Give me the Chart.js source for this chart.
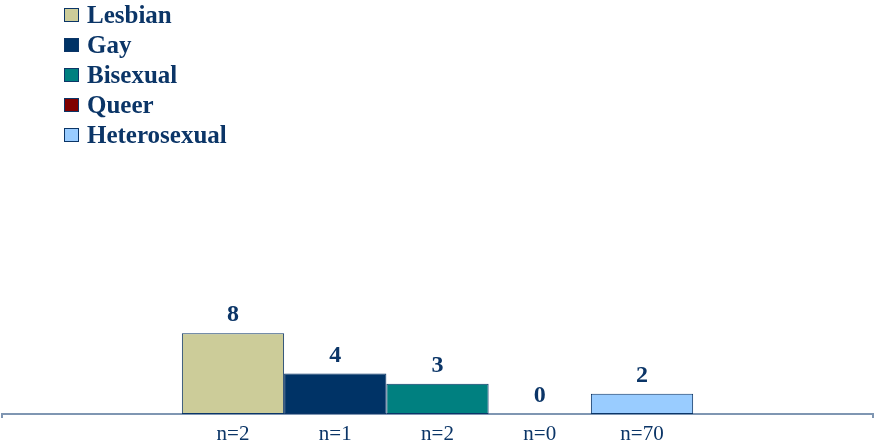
<!DOCTYPE html>
<html>
<head>
<meta charset="utf-8">
<script src="https://cdn.jsdelivr.net/npm/chart.js@4/dist/chart.umd.min.js"></script>
<style>
  html, body { margin: 0; padding: 0; background: #ffffff; }
  #wrap { position: relative; width: 874px; height: 441px; }
  #legend { position: absolute; left: 64px; top: 0px; font-family: "Liberation Serif", "Times New Roman", serif; font-weight: bold; font-size: 25px; color: #0b3567; }
  #legend .item { height: 30px; line-height: 30px; display: flex; align-items: center; white-space: nowrap; }
  #legend .box { width: 13px; height: 12px; border: 1px solid #0b3567; margin-right: 8px; }
</style>
</head>
<body>
<div id="wrap">
  <canvas id="c" width="874" height="441"></canvas>
  <div id="legend"></div>
</div>
<script>
const categories = [""];
const seriesNames = ["Lesbian", "Gay", "Bisexual", "Queer", "Heterosexual"];
const seriesValues = [8, 4, 3, 0, 2];
const sampleLabels = ["n=2", "n=1", "n=2", "n=0", "n=70"];
const seriesColors = ["#CCCC99", "#003366", "#008080", "#800000", "#99CCFF"];

const textColor = "#0b3567";
const axisColor = "#7f96b2";

const datasets = seriesNames.map((name, i) => ({
  label: name,
  data: [seriesValues[i]],
  backgroundColor: seriesColors[i],
  borderColor: "#0b3567",
  borderWidth: 1,
  borderSkipped: false
}));

// HTML legend built from the series arrays
const legendEl = document.getElementById("legend");
seriesNames.forEach((name, i) => {
  const it = document.createElement("div");
  it.className = "item";
  const b = document.createElement("span");
  b.className = "box";
  b.style.background = seriesColors[i];
  const t = document.createElement("span");
  t.textContent = name;
  it.appendChild(b);
  it.appendChild(t);
  legendEl.appendChild(it);
});

const labelPlugin = {
  id: "barLabels",
  afterDatasetsDraw(chart) {
    const ctx = chart.ctx;
    ctx.save();
    ctx.textAlign = "center";
    ctx.textBaseline = "middle";
    ctx.fillStyle = textColor;
    chart.data.datasets.forEach((ds, i) => {
      const meta = chart.getDatasetMeta(i);
      const bar = meta.data[0];
      if (!bar) return;
      ctx.font = "bold 24px 'Liberation Serif', 'Times New Roman', serif";
      ctx.fillText(String(ds.data[0]), bar.x, bar.y - 18);
      ctx.font = "21px 'Liberation Serif', 'Times New Roman', serif";
      ctx.fillText(sampleLabels[i], bar.x, chart.chartArea.bottom + 20);
    });
    ctx.restore();
  }
};

new Chart(document.getElementById("c"), {
  type: "bar",
  data: { labels: categories, datasets: datasets },
  options: {
    responsive: false,
    animation: false,
    devicePixelRatio: 1,
    layout: { padding: { left: 2, right: 1, top: 0, bottom: 23 } },
    plugins: { legend: { display: false }, tooltip: { enabled: false } },
    datasets: { bar: { categoryPercentage: 0.587, barPercentage: 1.0 } },
    scales: {
      x: {
        offset: true,
        grid: { display: true, drawOnChartArea: false, drawTicks: true, tickLength: 4, color: axisColor, lineWidth: 2, offset: true },
        border: { display: true, color: axisColor, width: 2 },
        ticks: { display: false }
      },
      y: {
        display: false,
        min: 0,
        max: 41
      }
    }
  },
  plugins: [labelPlugin]
});
</script>
</body>
</html>
